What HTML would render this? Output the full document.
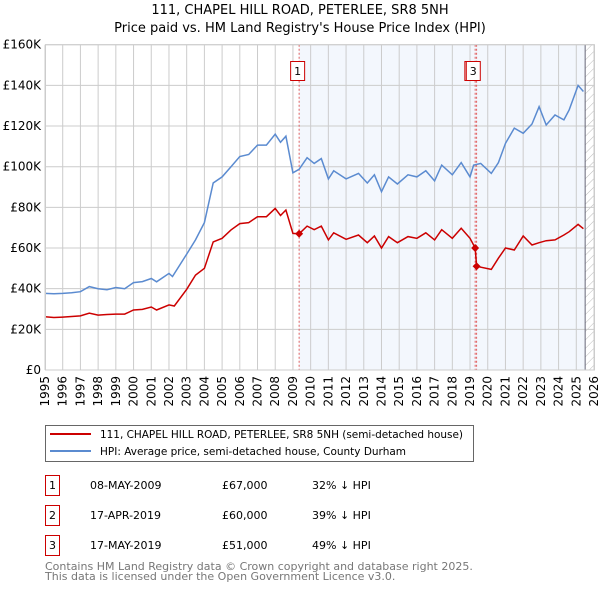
<!DOCTYPE html>
<html><head><meta charset="utf-8"><style>
body{margin:0;background:#fff;font-family:"Liberation Sans","DejaVu Sans",sans-serif}
svg text{font-family:"DejaVu Sans","Liberation Sans",sans-serif}
</style></head><body>
<svg id="c" width="600" height="590" xmlns="http://www.w3.org/2000/svg">
<defs><pattern id="hatch" width="6" height="6" patternUnits="userSpaceOnUse" patternTransform="rotate(45)"><line x1="0" y1="0" x2="0" y2="6" stroke="#bbb" stroke-width="1"/></pattern></defs>
<text x="300" y="14" text-anchor="middle" font-size="13">111, CHAPEL HILL ROAD, PETERLEE, SR8 5NH</text>
<text x="300" y="32" text-anchor="middle" font-size="13">Price paid vs. HM Land Registry's House Price Index (HPI)</text>
<g id="plot"></g>
<g>
<rect x="45.5" y="425.5" width="428" height="36" fill="#fff" stroke="#666"/>
<line x1="50" y1="434" x2="91" y2="434" stroke="#cc0000" stroke-width="2"/>
<text x="100" y="438" font-size="10.5" textLength="363">111, CHAPEL HILL ROAD, PETERLEE, SR8 5NH (semi-detached house)</text>
<line x1="50" y1="451" x2="91" y2="451" stroke="#5b8bd0" stroke-width="2"/>
<text x="100" y="455" font-size="10.5" textLength="306">HPI: Average price, semi-detached house, County Durham</text>
</g>
<g font-size="11">
<rect x="45.5" y="475.5" width="14" height="20" fill="#fff" stroke="#cc0000"/><text x="52.5" y="489" text-anchor="middle">1</text>
<text x="90" y="489">08-MAY-2009</text><text x="222" y="489">£67,000</text><text x="312" y="489">32% ↓ HPI</text>
<rect x="45.5" y="505.5" width="14" height="20" fill="#fff" stroke="#cc0000"/><text x="52.5" y="519" text-anchor="middle">2</text>
<text x="90" y="519">17-APR-2019</text><text x="222" y="519">£60,000</text><text x="312" y="519">39% ↓ HPI</text>
<rect x="45.5" y="535.5" width="14" height="20" fill="#fff" stroke="#cc0000"/><text x="52.5" y="549" text-anchor="middle">3</text>
<text x="90" y="549">17-MAY-2019</text><text x="222" y="549">£51,000</text><text x="312" y="549">49% ↓ HPI</text>
</g>
<text x="45" y="570" font-size="11" fill="#777">Contains HM Land Registry data © Crown copyright and database right 2025.</text>
<text x="45" y="580" font-size="11" fill="#777">This data is licensed under the Open Government Licence v3.0.</text>
</svg>
<script>
const years=[1995,1996,1997,1998,1999,2000,2001,2002,2003,2004,2005,2006,2007,2008,2009,2010,2011,2012,2013,2014,2015,2016,2017,2018,2019,2020,2021,2022,2023,2024,2025,2026];
const yTicks=[0,20000,40000,60000,80000,100000,120000,140000,160000];
const hpiX=[1995,1995.5,1996,1996.5,1997,1997.5,1998,1998.5,1999,1999.5,2000,2000.5,2001,2001.3,2002,2002.2,2003,2003.5,2004,2004.5,2005,2005.5,2006,2006.5,2007,2007.5,2008,2008.3,2008.6,2009,2009.35,2009.8,2010.2,2010.6,2011,2011.3,2012,2012.7,2013.2,2013.6,2014,2014.4,2014.9,2015.5,2016,2016.5,2017,2017.4,2018,2018.5,2019,2019.2,2019.6,2020.2,2020.6,2021,2021.5,2022,2022.5,2022.9,2023.3,2023.8,2024.3,2024.6,2025.1,2025.4];
const hpiY=[37.7,37.5,37.7,38,38.5,41,40,39.5,40.6,40,43,43.5,45,43.4,47.5,46,57,64,72.5,92,95,100,105,106,110.6,110.6,116,112,115,97,98.7,104.4,101.6,104,94,98,94,96.7,92,96,87.7,95,91.5,96,95,98,93,100.8,96,102,95,100.8,101.6,96.7,102,111.5,119,116.4,121,129.5,120.5,125.4,123,128,140,137];
const ppX=[1995,1995.5,1996,1996.5,1997,1997.5,1998,1998.5,1999,1999.5,2000,2000.5,2001,2001.3,2002,2002.3,2003,2003.5,2004,2004.5,2005,2005.5,2006,2006.5,2007,2007.5,2008,2008.3,2008.6,2009,2009.35,2009.8,2010.2,2010.6,2011,2011.3,2012,2012.7,2013.2,2013.6,2014,2014.4,2014.9,2015.5,2016,2016.5,2017,2017.4,2018,2018.5,2019,2019.29,2019.37,2020.2,2020.6,2021,2021.5,2022,2022.5,2022.9,2023.3,2023.8,2024.3,2024.6,2025.1,2025.4];
const ppY=[26.2,25.8,26,26.3,26.6,28,27,27.3,27.5,27.5,29.5,29.8,31,29.5,32,31.5,39.7,46.7,50,63,64.8,68.9,72,72.5,75.4,75.4,79.5,76,78.7,67.2,67,70.8,69,70.8,64,67.5,64.3,66.4,62.6,65.9,60,65.6,62.6,65.6,64.8,67.5,64,69,64.8,69.7,64.8,60,51,49.5,55,60,59,65.9,61.5,62.6,63.6,64,66.4,68,71.6,69.5];
const saleX=[2009.35,2019.29,2019.37];
const saleY=[67,60,51];
const saleLabel=["1","2","3"];
const X0=45,X1=594,Y0=370,Y1=44.7;
const sx=y=>X0+(y-1995)/(2026-1995)*(X1-X0);
const sy=v=>Y0-v/160000*(Y0-Y1);
const NS="http://www.w3.org/2000/svg";
const g=document.getElementById('plot');
function mk(t,a,p){const e=document.createElementNS(NS,t);for(const k in a)e.setAttribute(k,a[k]);(p||g).appendChild(e);return e;}
let e;
e=mk('rect',{x:sx(2009.35),y:Y1,width:sx(2025.5)-sx(2009.35),height:Y0-Y1,fill:'#eef3fc',opacity:0.7});


e=mk('rect',{x:sx(2025.5),y:Y1,width:X1-sx(2025.5),height:Y0-Y1,fill:'url(#hatch)'});


years.forEach(y=>{
 e=mk('line',{x1:sx(y),x2:sx(y),y1:Y1,y2:Y0,stroke:'#ccc','stroke-width':1});
 
 
 e=mk('text',{x:0,y:0,'font-size':12,'text-anchor':'end',transform:`translate(${sx(y)+4},${Y0+6}) rotate(-90)`});
 e.textContent=y;
 
 
});
yTicks.forEach(v=>{
 e=mk('line',{x1:X0,x2:X1,y1:sy(v),y2:sy(v),stroke:'#ccc','stroke-width':1});
 
 
 e=mk('text',{x:X0-4,y:sy(v)+4,'font-size':12,'text-anchor':'end'});
 e.textContent=v===0?'£0':'£'+(v/1000)+'K';
 
 
});
e=mk('line',{x1:sx(2025.5),x2:sx(2025.5),y1:Y1,y2:Y0,stroke:'#667','stroke-width':1});


saleX.forEach((x,i)=>{
 e=mk('line',{x1:sx(x),x2:sx(x),y1:Y1,y2:Y0,stroke:'#e06060','stroke-width':1,'stroke-dasharray':'2,2'});
 
 
});
const pts=(xs,ys)=>xs.map((x,i)=>sx(x).toFixed(1)+','+sy(ys[i]*1000).toFixed(1)).join(' ');
e=mk('polyline',{points:pts(hpiX,hpiY),fill:'none',stroke:'#5b8bd0','stroke-width':1.5});


e=mk('polyline',{points:pts(ppX,ppY),fill:'none',stroke:'#cc0000','stroke-width':1.5});


saleX.forEach((x,i)=>{
 const cx=sx(x),cy=sy(saleY[i]*1000);
 e=mk('polygon',{points:`${cx},${cy-4} ${cx+4},${cy} ${cx},${cy+4} ${cx-4},${cy}`,fill:'#cc0000'});
 
 
});
saleX.forEach((x,i)=>{
 const c=sx(x)-(i===0?1.5:3.3);
 e=mk('rect',{x:c-7,y:61.5,width:14,height:19,fill:'#fff',stroke:'#cc0000'});
 
 
 e=mk('text',{x:c,y:75,'font-size':11,'text-anchor':'middle'});
 e.textContent=saleLabel[i];
 
 
});
e=mk('rect',{x:X0+0.5,y:Y1,width:X1-X0,height:Y0-Y1,fill:'none',stroke:'#ccc'});


</script>
</body></html>
